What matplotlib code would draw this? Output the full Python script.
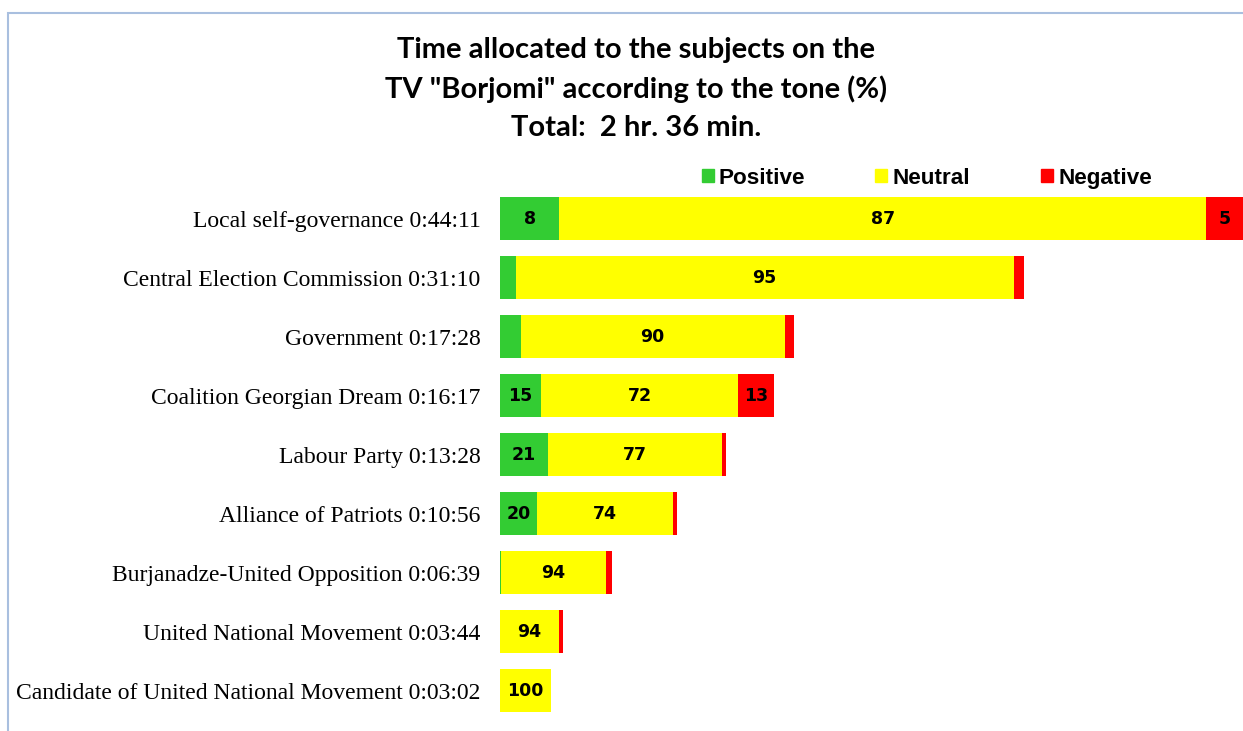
import matplotlib
matplotlib.use("Agg")
import matplotlib.pyplot as plt
from matplotlib.patches import Rectangle

# subjects, air time and tone shares (%)
subjects = ["Local self-governance 0:44:11",
            "Central Election Commission 0:31:10",
            "Government 0:17:28",
            "Coalition Georgian Dream 0:16:17",
            "Labour Party 0:13:28",
            "Alliance of Patriots 0:10:56",
            "Burjanadze-United Opposition 0:06:39",
            "United National Movement 0:03:44",
            "Candidate of United National Movement 0:03:02"]
durations = ["0:44:11", "0:31:10", "0:17:28", "0:16:17", "0:13:28",
             "0:10:56", "0:06:39", "0:03:44", "0:03:02"]
positive = [8, 3, 7, 15, 21, 20, 1, 0, 0]
neutral = [87, 95, 90, 72, 77, 74, 94, 94, 100]
negative = [5, 2, 3, 13, 2, 2, 5, 6, 0]

tones = ["Positive", "Neutral", "Negative"]
colors = ["#33cc33", "#ffff00", "#ff0000"]


def to_sec(s):
    h, m, sec = s.split(":")
    return int(h) * 3600 + int(m) * 60 + int(sec)


secs = [to_sec(d) for d in durations]

W, H = 1243, 731
fig = plt.figure(figsize=(W / 100, H / 100), dpi=100)
ax = fig.add_axes([500 / W, 1 - 726 / H, 743 / W, (726 - 189.5) / H])

ypos = list(range(len(subjects)))
left = [0] * len(subjects)
for vals, col in zip([positive, neutral, negative], colors):
    widths = [s * v / 100 for s, v in zip(secs, vals)]
    ax.barh(ypos, widths, left=left, height=0.73, color=col, edgecolor="none")
    for y, l, w, v in zip(ypos, left, widths, vals):
        if w >= 100:
            ax.text(l + w / 2, y, str(v), ha="center", va="center",
                    fontsize=12.5, fontweight="bold", color="black")
    left = [a + b for a, b in zip(left, widths)]

ax.set_xlim(0, max(secs))
ax.set_ylim(8.6, -0.5)
ax.set_yticks(ypos)
ax.set_yticklabels(subjects, fontsize=17, family="Liberation Serif")
ax.tick_params(axis="y", length=0, pad=14)
ax.set_xticks([])
for sp in ax.spines.values():
    sp.set_visible(False)

# legend keys drawn by hand so the labels share one baseline
leg_x = [702, 875, 1041]
for t, c, x in zip(tones, colors, leg_x):
    fig.patches.append(Rectangle((x / W, 1 - 182 / H), 12 / W, 13 / H,
                                 transform=fig.transFigure, color=c))
    fig.text((x + 17) / W, 1 - 184 / H, t, ha="left", va="baseline",
             family="Liberation Sans", fontweight="bold", fontsize=16.2)

fig.text(636 / W, 1 - 89 / H,
         'Time allocated to the subjects on the\nTV "Borjomi" according to the tone (%)\nTotal:  2 hr. 36 min.',
         ha="center", va="center", fontsize=21, fontweight="bold",
         family="Lato", linespacing=1.55)

fig.patches.append(Rectangle((8 / W, -0.01), 1.1, 1 - 13 / H + 0.01, transform=fig.transFigure,
                             fill=False, edgecolor="#a9bfdf", linewidth=1.5))

fig.savefig("out.png", dpi=100)
